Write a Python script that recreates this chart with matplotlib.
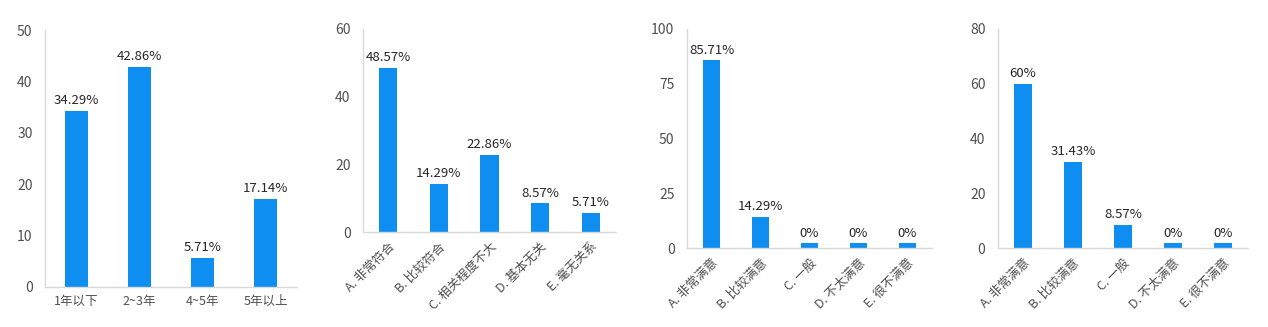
import matplotlib
matplotlib.use("Agg")
import matplotlib.pyplot as plt
import numpy as np

plt.rcParams['font.family'] = ['Noto Sans CJK SC', 'DejaVu Sans']

cats1 = ["1年以下", "2~3年", "4~5年", "5年以上"]
vals1 = [34.29, 42.86, 5.71, 17.14]
labels1 = ["34.29%", "42.86%", "5.71%", "17.14%"]

cats2 = ["A. 非常符合", "B. 比较符合", "C. 相关程度不大", "D. 基本无关", "E. 毫无关系"]
vals2 = [48.57, 14.29, 22.86, 8.57, 5.71]
labels2 = ["48.57%", "14.29%", "22.86%", "8.57%", "5.71%"]

cats3 = ["A. 非常满意", "B. 比较满意", "C. 一般", "D. 不太满意", "E. 很不满意"]
vals3 = [85.71, 14.29, 0, 0, 0]
labels3 = ["85.71%", "14.29%", "0%", "0%", "0%"]

cats4 = ["A. 非常满意", "B. 比较满意", "C. 一般", "D. 不太满意", "E. 很不满意"]
vals4 = [60, 31.43, 8.57, 0, 0]
labels4 = ["60%", "31.43%", "8.57%", "0%", "0%"]

ylims = [50, 60, 100, 80]
ysteps = [10, 20, 25, 20]

BLUE = "#0d8ef0"
AXIS = "#d9d9d9"
TICK = "#505050"
TEXT = "#262626"

W, H = 1268, 327
fig = plt.figure(figsize=(W / 100, H / 100), dpi=100)

# axes boxes in pixels: left, top, right, bottom
boxes = [(45, 30, 297, 287), (363, 29, 616, 232), (687, 29, 932, 248), (998, 29, 1248, 248)]

panels = [(cats1, vals1, labels1, False), (cats2, vals2, labels2, True),
          (cats3, vals3, labels3, True), (cats4, vals4, labels4, True)]

for (l, t, r, b), (cats, vals, labs, rot), ymax, ystep in zip(boxes, panels, ylims, ysteps):
    ax = fig.add_axes([l / W, (H - b) / H, (r - l) / W, (b - t) / H])
    x = np.arange(len(cats))
    minh = ymax * 0.022  # minimum visible bar height for 0% categories
    heights = [max(v, minh) for v in vals]
    bw = 0.36 if len(cats) == 5 else 0.35
    ax.bar(x, heights, width=bw, color=BLUE, zorder=2)
    for xi, h, lab in zip(x, heights, labs):
        ax.annotate(lab, (xi, h), xytext=(0, 2.5), textcoords="offset points",
                    ha="center", va="bottom", fontsize=9.5, color=TEXT)
    ax.set_xlim(-0.5, len(cats) - 0.5)
    ax.set_ylim(0, ymax)
    ax.set_yticks(np.arange(0, ymax + 0.1, ystep))
    ax.set_xticks(x)
    if rot:
        ax.set_xticklabels(cats, rotation=45, ha="right", rotation_mode="anchor")
    else:
        ax.set_xticklabels(cats)
    ax.tick_params(axis="both", length=0, colors=TICK)
    ax.tick_params(axis="y", pad=9, labelsize=10)
    ax.tick_params(axis="x", pad=6, labelsize=9)
    for s in ["top", "right"]:
        ax.spines[s].set_visible(False)
    for s in ["left", "bottom"]:
        ax.spines[s].set_color(AXIS)
        ax.spines[s].set_linewidth(1)

fig.savefig("out.png", dpi=100, facecolor="white")
